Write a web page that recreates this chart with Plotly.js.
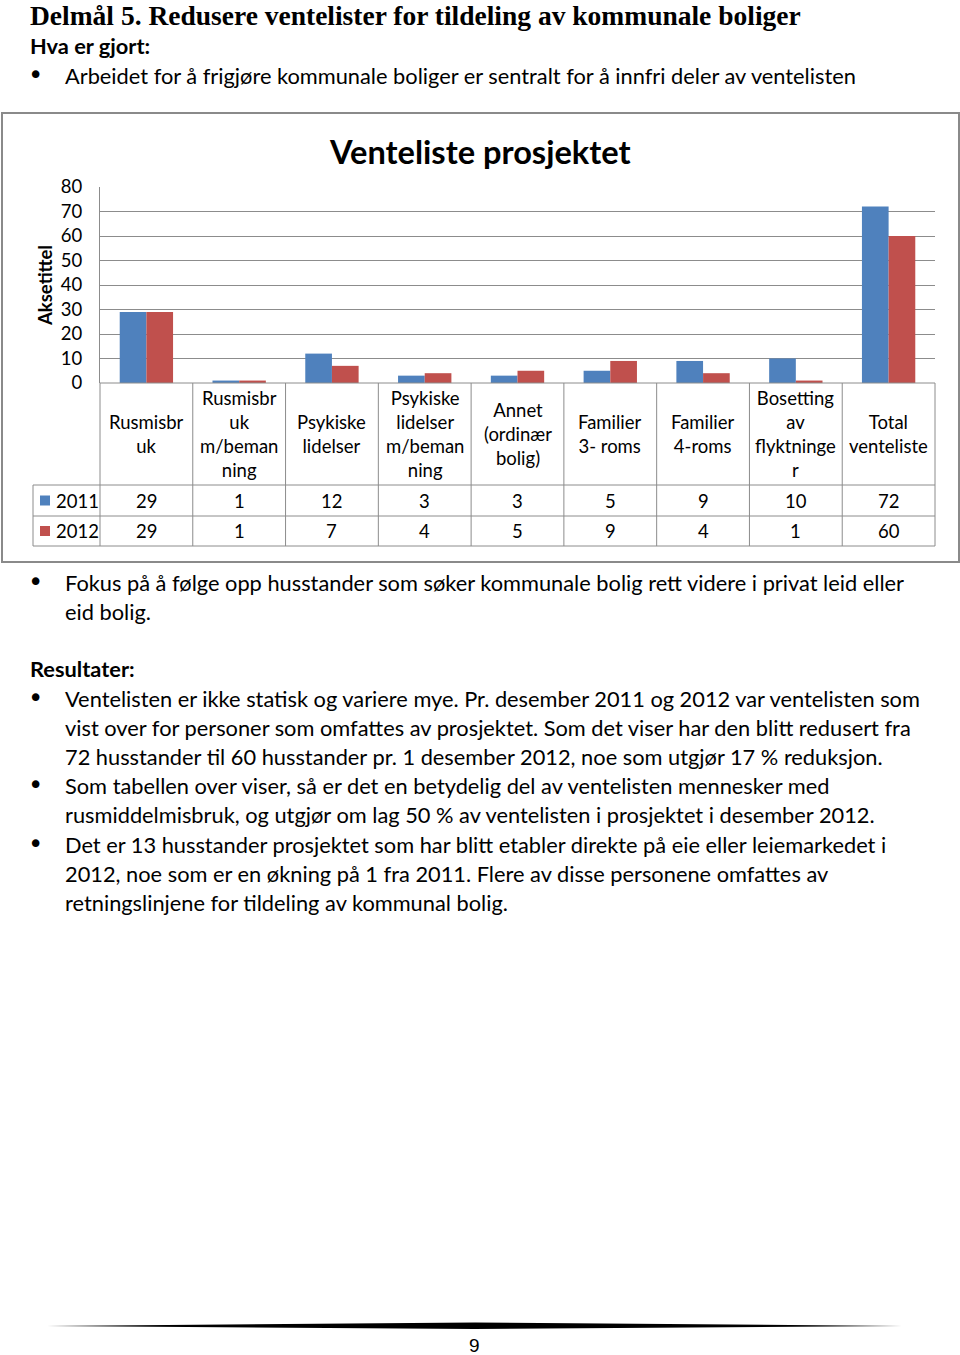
<!DOCTYPE html>
<html>
<head>
<meta charset="utf-8">
<script src="https://cdn.plot.ly/plotly-3.0.1.min.js"></script>
<style>
  html, body { margin:0; padding:0; background:#fff; }
  #page { position:relative; width:960px; height:1355px; overflow:hidden; background:#fff; }
  #chart { position:absolute; left:0; top:0; width:960px; height:1355px; }
  .t { position:absolute; white-space:nowrap; font-family:Lato, "Open Sans", sans-serif; font-size:21.8px; line-height:29px; color:#000; }
  .b { font-weight:bold; }
  .h { font-family:"Liberation Serif", "DejaVu Serif", serif; font-weight:bold; font-size:27.5px; line-height:31px; }
  .bul { position:absolute; font-family:"DejaVu Sans", sans-serif; font-size:26px; line-height:29px; }
</style>
</head>
<body>
<div id="page">
  <div id="chart"></div>

  <div class="t h" style="left:30px; top:0px;">Delmål 5. Redusere ventelister for tildeling av kommunale boliger</div>
  <div class="t b" style="left:30px; top:31px;">Hva er gjort:</div>
  <div class="bul" style="left:28px; top:61px;">•</div>
  <div class="t" style="left:65px; top:61px;">Arbeidet for å frigjøre kommunale boliger er sentralt for å innfri deler av ventelisten</div>

  <div class="bul" style="left:28px; top:568px;">•</div>
  <div class="t" style="left:65px; top:568px;">Fokus på å følge opp husstander som søker kommunale bolig rett videre i privat leid eller<br>eid bolig.</div>

  <div class="t b" style="left:30px; top:654px;">Resultater:</div>
  <div class="bul" style="left:28px; top:684px;">•</div>
  <div class="t" style="left:65px; top:684px;">Ventelisten er ikke statisk og variere mye. Pr. desember 2011 og 2012 var ventelisten som<br>vist over for personer som omfattes av prosjektet. Som det viser har den blitt redusert fra<br>72 husstander til 60 husstander pr. 1 desember 2012, noe som utgjør 17 % reduksjon.</div>
  <div class="bul" style="left:28px; top:771px;">•</div>
  <div class="t" style="left:65px; top:771px;">Som tabellen over viser, så er det en betydelig del av ventelisten mennesker med<br>rusmiddelmisbruk, og utgjør om lag 50 % av ventelisten i prosjektet i desember 2012.</div>
  <div class="bul" style="left:28px; top:830px;">•</div>
  <div class="t" style="left:65px; top:830px;">Det er 13 husstander prosjektet som har blitt etabler direkte på eie eller leiemarkedet i<br>2012, noe som er en økning på 1 fra 2011. Flere av disse personene omfattes av<br>retningslinjene for tildeling av kommunal bolig.</div>

  <svg style="position:absolute; left:0; top:0;" width="960" height="1355">
    <polygon points="47,1326 475,1322.5 902,1326 475,1329" fill="#000"/>
  </svg>
  <div class="t" style="left:469px; top:1331px; font-family:'Liberation Sans Narrow','Liberation Sans',sans-serif; font-size:19px;">9</div>
</div>

<script>
// ---- data ----
const categories = [
  "Rusmisbr<br>uk",
  "Rusmisbr<br>uk<br>m/beman<br>ning",
  "Psykiske<br>lidelser",
  "Psykiske<br>lidelser<br>m/beman<br>ning",
  "Annet<br>(ordinær<br>bolig)",
  "Familier<br>3- roms",
  "Familier<br>4-roms",
  "Bosetting<br>av<br>flyktninge<br>r",
  "Total<br>venteliste"
];
const seriesNames = ["2011", "2012"];
const values2011 = [29, 1, 12, 3, 3, 5, 9, 10, 72];
const values2012 = [29, 1, 7, 4, 5, 9, 4, 1, 60];
const yTicks = [0, 10, 20, 30, 40, 50, 60, 70, 80];
const chartTitle = "Venteliste prosjektet";
const yTitle = "Aksetittel";

// ---- layout helpers (page pixel -> paper) ----
const PL = 100, PR = 935, PT = 187, PB = 383;
const px = X => (X - PL) / (PR - PL);
const py = Y => (PB - Y) / (PB - PT);
const n = categories.length;
const cw = (PR - PL) / n;

const colors = ["#4F81BD", "#C0504D"];
const FONT = "Lato, 'Open Sans', sans-serif";
const grid = "#8c8c8c";

const traces = [
  { type: "bar", name: seriesNames[0], x: categories, y: values2011, marker: { color: colors[0] }, hoverinfo: "skip" },
  { type: "bar", name: seriesNames[1], x: categories, y: values2012, marker: { color: colors[1] }, hoverinfo: "skip" }
];

const shapes = [];
const annotations = [];
const line = (x0, y0, x1, y1, w, c) => shapes.push({
  type: "line", xref: "paper", yref: "paper",
  x0: px(x0), y0: py(y0), x1: px(x1), y1: py(y1),
  line: { color: c || grid, width: w || 1 }
});

// chart frame
shapes.push({ type: "rect", xref: "paper", yref: "paper", x0: px(2), y0: py(113), x1: px(959), y1: py(562),
  line: { color: "#8a8a8a", width: 2 }, fillcolor: "rgba(0,0,0,0)" });

// data table grid
const rowTop = 383, rowCat = 485, row1 = 516, row2 = 546, legL = 33;
for (let k = 0; k <= n; k++) line(PL + k * cw, rowTop, PL + k * cw, row2);
line(legL, rowCat, PR, rowCat);
line(legL, row1, PR, row1);
line(legL, row2, PR, row2);
line(legL, rowCat, legL, row2);
line(PL, rowTop, PR, rowTop);

// category labels and values
const rows = [values2011, values2012];
const rowCenters = [500.5, 531];
categories.forEach((c, i) => {
  const xc = (i + 0.5) / n;
  annotations.push({ xref: "paper", yref: "paper", x: xc, y: py(434), text: c, showarrow: false,
    xanchor: "center", yanchor: "middle", align: "center", font: { family: FONT, size: 18.5, color: "#000" } });
  rows.forEach((r, j) => annotations.push({ xref: "paper", yref: "paper", x: xc, y: py(rowCenters[j]),
    text: String(r[i]), showarrow: false, xanchor: "center", yanchor: "middle",
    font: { family: FONT, size: 18.5, color: "#000" } }));
});

// legend keys in table
seriesNames.forEach((s, j) => {
  const yc = rowCenters[j];
  shapes.push({ type: "rect", xref: "paper", yref: "paper", x0: px(40), x1: px(50), y0: py(yc - 5), y1: py(yc + 5),
    line: { width: 0 }, fillcolor: colors[j] });
  annotations.push({ xref: "paper", yref: "paper", x: px(54), y: py(yc), text: s, showarrow: false,
    xanchor: "left", yanchor: "middle", font: { family: FONT, size: 18.5, color: "#000" } });
});

// title and axis title
annotations.push({ xref: "paper", yref: "paper", x: px(480), y: py(151), text: "<b>" + chartTitle + "</b>",
  showarrow: false, xanchor: "center", yanchor: "middle", font: { family: FONT, size: 32.6, color: "#000" } });
annotations.push({ xref: "paper", yref: "paper", x: px(45), y: py(285), text: "<b>" + yTitle + "</b>",
  showarrow: false, textangle: -90, xanchor: "center", yanchor: "middle", font: { family: FONT, size: 18.5, color: "#000" } });

const layout = {
  width: 960, height: 1355,
  margin: { l: PL, r: 960 - PR, t: PT, b: 1355 - PB, pad: 0 },
  paper_bgcolor: "rgba(0,0,0,0)", plot_bgcolor: "rgba(0,0,0,0)",
  showlegend: false,
  barmode: "group", bargap: 0.425, bargroupgap: 0,
  xaxis: { type: "category", showticklabels: false, showgrid: false, zeroline: false, showline: false, ticks: "", fixedrange: true },
  yaxis: { range: [0, 80], tickvals: yTicks, ticktext: yTicks.map(String), showgrid: true, gridcolor: grid, gridwidth: 1,
    zeroline: false, showline: true, linecolor: grid, linewidth: 1, ticks: "", ticklabelstandoff: 13,
    tickfont: { family: FONT, size: 18.5, color: "#000" }, fixedrange: true },
  shapes: shapes,
  annotations: annotations,
  font: { family: FONT }
};

Plotly.newPlot("chart", traces, layout, { staticPlot: true, displayModeBar: false });
</script>
</body>
</html>
